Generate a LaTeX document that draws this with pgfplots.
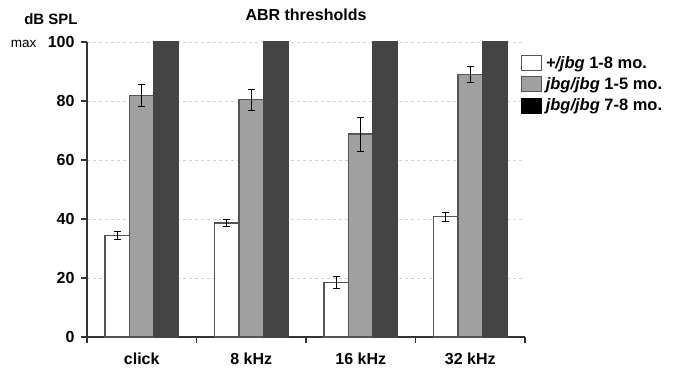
\documentclass[border=0pt]{standalone}
\usepackage{pgfplots}
\pgfplotsset{compat=1.18}
\usepackage{fontspec}
\setmainfont{Liberation Sans}
\definecolor{edgegray}{HTML}{555555}
\definecolor{midgray}{HTML}{A0A0A0}
\definecolor{darkbar}{HTML}{444444}
\definecolor{axisgray}{HTML}{333333}
\begin{document}
\begin{tikzpicture}
\useasboundingbox (-87pt,-35pt) rectangle (586pt,337pt);
\begin{axis}[
  at={(0pt,0pt)}, anchor=south west,
  scale only axis, width=438pt, height=295pt,
  xmin=-0.5, xmax=3.5, ymin=0, ymax=100,
  axis lines*=left,
  axis line style={axisgray, line width=1.3pt},
  tick style={axisgray, line width=1.1pt},
  tick align=outside, major tick length=6pt,
  xtick={-0.5,0.5,1.5,2.5,3.5}, xticklabels={},
  extra x ticks={0,1,2,3},
  extra x tick labels={click,8 kHz,16 kHz,32 kHz},
  extra x tick style={major tick length=0pt, grid=none,
    xticklabel style={font=\bfseries\fontsize{16}{16}\selectfont, yshift=-12pt}},
  ytick={0,20,40,60,80,100},
  yticklabel style={font=\bfseries\fontsize{16}{16}\selectfont, xshift=-3pt},
  /pgf/number format/assume math mode=true,
  ymajorgrids, grid style={dashed, gray!35, line width=0.6pt},
  legend style={at={(0.991,0.958)}, anchor=north west, draw=none, fill=none,
    inner sep=0pt, row sep=5pt, column sep=2pt,
    nodes={inner sep=1.5pt},
    font=\bfseries\fontsize{16.5}{16.5}\selectfont},
  legend cell align=left,
  clip=false,
]
\addplot[ybar, forget plot, bar width=24.5pt, bar shift=-24.5pt, fill=white, draw=edgegray, line width=1.3pt]
  coordinates {(0,34.4) (1,38.6) (2,18.4) (3,40.8)};
\addplot[ybar, forget plot, bar width=24.5pt, bar shift=0pt, fill=midgray, draw=edgegray, line width=1.3pt]
  coordinates {(0,81.8) (1,80.5) (2,68.8) (3,89.0)};
\addplot[ybar, forget plot, bar width=24.5pt, bar shift=24.5pt, fill=darkbar, draw=darkbar, line width=1.3pt]
  coordinates {(0,100) (1,100) (2,100) (3,100)};
% error bars (white bars, centred at x - 0.2237)
\addplot[forget plot, draw=none, mark=none,
  error bars/.cd, y dir=both, y explicit,
  error bar style={draw=black, line width=0.8pt},
  error mark options={draw=black, line width=0.8pt, mark size=3.5pt, rotate=90}]
  coordinates {(-0.2237,34.4) +- (0,1.4) (0.7763,38.6) +- (0,1.2) (1.7763,18.4) +- (0,2.0) (2.7763,40.8) +- (0,1.5)};
\addplot[forget plot, draw=none, mark=none,
  error bars/.cd, y dir=both, y explicit,
  error bar style={draw=black, line width=0.8pt},
  error mark options={draw=black, line width=0.8pt, mark size=3.5pt, rotate=90}]
  coordinates {(0,81.8) +- (0,3.7) (1,80.5) +- (0,3.6) (2,68.8) +- (0,5.8) (3,89.0) +- (0,2.7)};
\addlegendimage{legend image code/.code={\draw[fill=white, draw=edgegray, line width=1pt] (0pt,-7.5pt) rectangle (20pt,7.5pt);}}
\addlegendentry{\textit{+/jbg} 1-8 mo.}
\addlegendimage{legend image code/.code={\draw[fill=midgray, draw=edgegray, line width=1pt] (0pt,-7.5pt) rectangle (20pt,7.5pt);}}
\addlegendentry{\textit{jbg/jbg} 1-5 mo.}
\addlegendimage{legend image code/.code={\draw[fill=black, draw=black, line width=1pt] (0pt,-7.5pt) rectangle (20pt,7.5pt);}}
\addlegendentry{\textit{jbg/jbg} 7-8 mo.}
\end{axis}
\node[font=\bfseries\fontsize{16}{16}\selectfont] at (219pt,322pt) {ABR thresholds};
\node[font=\bfseries\fontsize{15}{15}\selectfont] at (-36pt,318pt) {dB SPL};
\node[anchor=east, font=\fontsize{13.5}{13.5}\selectfont] at (-47pt,293pt) {max};
\end{tikzpicture}
\end{document}
